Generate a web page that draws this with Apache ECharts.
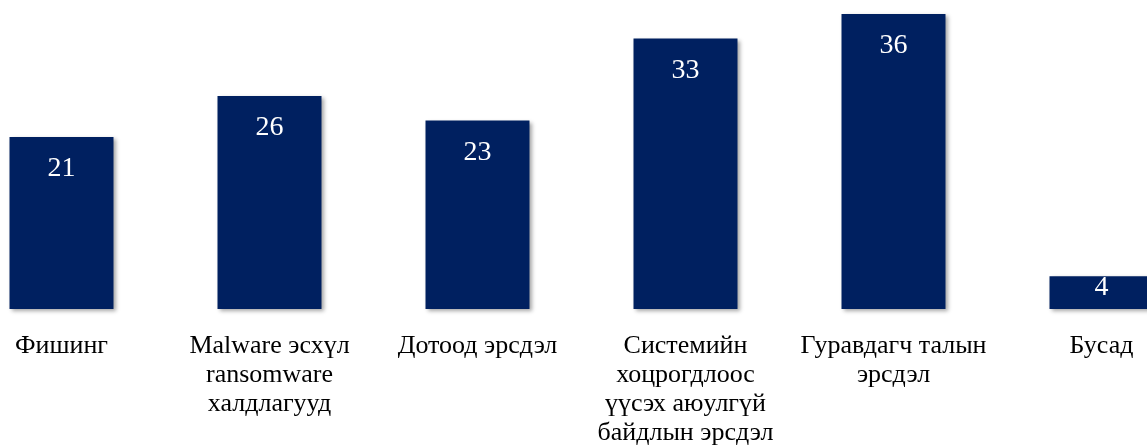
<!DOCTYPE html>
<html>
<head>
<meta charset="utf-8">
<script src="https://cdn.jsdelivr.net/npm/echarts@6/dist/echarts.min.js"></script>
<style>
html,body{margin:0;padding:0;background:#fff;}
#chart{width:1147px;height:446px;}
</style>
</head>
<body>
<div id="chart"></div>
<script>
const categories = [
  'Фишинг',
  'Malware эсхүл\nransomware\nхалдлагууд',
  'Дотоод эрсдэл',
  'Системийн\nхоцрогдлоос\nүүсэх аюулгүй\nбайдлын эрсдэл',
  'Гуравдагч талын\nэрсдэл',
  'Бусад'
];
const values = [21, 26, 23, 33, 36, 4];

const chart = echarts.init(document.getElementById('chart'));
const serif = 'Liberation Serif';
chart.setOption({
  animation: false,
  textStyle: { fontFamily: serif },
  grid: { left: -42.5, width: 1248, top: 14, height: 295, containLabel: false, outerBoundsMode: 'none' },
  xAxis: {
    type: 'category',
    data: categories,
    axisLine: { show: false },
    axisTick: { show: false },
    axisLabel: {
      interval: 0,
      margin: 23,
      color: '#000',
      fontFamily: serif,
      fontSize: 26,
      lineHeight: 29,
      align: 'center',
      hideOverlap: false
    }
  },
  yAxis: {
    type: 'value',
    min: 0,
    max: 36,
    show: false,
    splitLine: { show: false }
  },
  series: [{
    type: 'bar',
    data: values.map((v, i) => i === values.length - 1
      ? { value: v, label: { position: 'insideTop', distance: -3 } }
      : v),
    barCategoryGap: '50%',
    itemStyle: {
      color: '#002060',
      shadowColor: 'rgba(0,0,0,0.35)',
      shadowBlur: 4,
      shadowOffsetX: 2,
      shadowOffsetY: 2
    },
    label: {
      show: true,
      position: 'insideTop',
      distance: 18,
      color: '#fff',
      fontFamily: serif,
      fontSize: 28
    }
  }]
});
</script>
</body>
</html>
